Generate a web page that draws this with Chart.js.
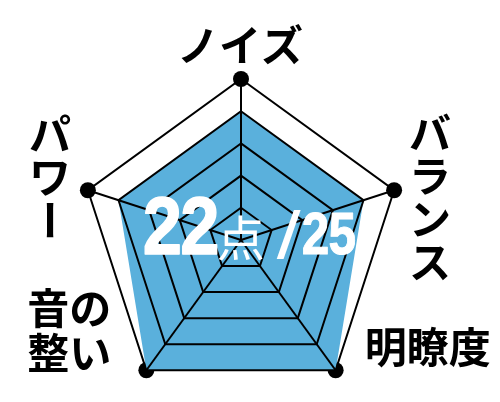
<!DOCTYPE html>
<html lang="ja">
<head>
<meta charset="utf-8">
<script src="https://cdn.jsdelivr.net/npm/chart.js@4.4.1/dist/chart.umd.min.js"></script>
<style>
  html, body { margin: 0; padding: 0; background: #fff; }
  #wrap { width: 500px; height: 402px; }
</style>
</head>
<body>
<div id="wrap"><canvas id="radar"></canvas></div>
<script>
// 軸ラベル(上から時計回り)と評価値
const labels = ['ノイズ', 'バランス', '明瞭度', '音の整い', 'パワー'];
const values = [4, 4, 5, 5, 4];
const maxScore = 5;

// ラベルの置き方: 頂点からのずらし量
const labelLayout = [
  { mode: 'row',    dx: -1,  dy: -34 },
  { mode: 'column', dx: 36,  dy: 7 },
  { mode: 'row',    dx: 92,  dy: -23 },
  { mode: 'wrap2',  dx: -77, dy: -40 },
  { mode: 'column', dx: -38, dy: -13 },
];

const labelFont = 'bold 42px "Noto Sans CJK JP"';

const axisTitles = {
  id: 'axisTitles',
  afterDraw(chart) {
    const r = chart.scales.r;
    const ctx = chart.ctx;
    ctx.save();
    ctx.fillStyle = '#000';
    ctx.font = labelFont;
    ctx.textAlign = 'center';
    ctx.textBaseline = 'middle';
    labels.forEach((text, i) => {
      const lay = labelLayout[i];
      const p = r.getPointPosition(i, r.drawingArea);
      let lines = [text];
      let lh = 43;
      if (lay.mode === 'column') lines = [...text];
      if (lay.mode === 'wrap2') { lines = text.match(/.{1,2}/g); lh = 45; }
      const top = p.y + lay.dy - lines.length * lh / 2;
      lines.forEach((ln, j) => {
        const x = p.x + lay.dx;
        const y = top + lh * (j + 0.5);
        if (lay.mode === 'column' && ln === 'ー') {
          // 縦書きの長音は縦棒にする
          ctx.save();
          ctx.translate(x, y);
          ctx.rotate(Math.PI / 2);
          ctx.fillText(ln, 0, 0);
          ctx.restore();
        } else {
          ctx.fillText(ln, x, y);
        }
      });
    });
    ctx.restore();
  }
};

// 中央の合計点
const scoreOverlay = {
  id: 'scoreOverlay',
  afterDraw(chart) {
    const r = chart.scales.r;
    const ctx = chart.ctx;
    const total = values.reduce((a, b) => a + b, 0);
    const parts = [
      { text: String(total), font: 'bold 82px "Liberation Sans"', sx: 0.86, gap: -1, dy: 0, ls: '-2px', stroke: 1.5 },
      { text: '点', font: '400 48px "Noto Sans CJK JP"', sx: 1, gap: 12, dy: 2, ls: '0px', stroke: 0 },
      { text: '/', font: '66px "Liberation Sans"', sx: 1.3, gap: 1, dy: 4, ls: '0px', stroke: 0 },
      { text: String(maxScore * labels.length), font: 'bold 59px "Liberation Sans"', sx: 0.84, gap: 0, dy: 0, ls: '-1px', stroke: 1 },
    ];
    ctx.save();
    ctx.fillStyle = '#fff';
    ctx.strokeStyle = '#fff';
    ctx.lineJoin = 'round';
    ctx.textAlign = 'left';
    ctx.textBaseline = 'alphabetic';
    let width = 0;
    parts.forEach(pt => {
      ctx.font = pt.font;
      ctx.letterSpacing = pt.ls;
      pt.w = ctx.measureText(pt.text).width * pt.sx;
      width += pt.w + pt.gap;
    });
    let x = r.xCenter + 8 - width / 2;
    const base = r.yCenter + 14;
    parts.forEach(pt => {
      ctx.save();
      ctx.font = pt.font;
      ctx.letterSpacing = pt.ls;
      ctx.translate(x, base + pt.dy);
      ctx.scale(pt.sx, 1);
      ctx.fillText(pt.text, 0, 0);
      if (pt.stroke) {
        ctx.lineWidth = pt.stroke;
        ctx.strokeText(pt.text, 0, 0);
      }
      ctx.restore();
      x += pt.w + pt.gap;
    });
    ctx.restore();
  }
};

new Chart(document.getElementById('radar'), {
  type: 'radar',
  data: {
    labels: labels,
    datasets: [
      {
        data: values,
        backgroundColor: '#5ab0dc',
        borderWidth: 0,
        pointRadius: 0,
        fill: true
      },
      {
        data: labels.map(() => maxScore),
        backgroundColor: 'transparent',
        borderWidth: 0,
        pointRadius: 8,
        pointBorderWidth: 0,
        pointBackgroundColor: '#000',
        fill: false
      }
    ]
  },
  options: {
    responsive: true,
    maintainAspectRatio: false,
    animation: false,
    events: [],
    layout: { padding: { left: 76, right: 94, top: 79, bottom: -7 } },
    plugins: {
      legend: { display: false },
      tooltip: { enabled: false }
    },
    scales: {
      r: {
        min: 0,
        max: maxScore,
        ticks: { stepSize: 1, display: false },
        grid: { color: '#000', lineWidth: 2, z: 1 },
        angleLines: { color: '#000', lineWidth: 2 },
        pointLabels: { display: false }
      }
    }
  },
  plugins: [axisTitles, scoreOverlay]
});
</script>
</body>
</html>
